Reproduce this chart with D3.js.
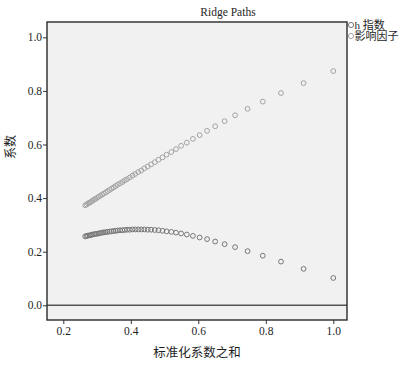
<!DOCTYPE html>
<html>
<head>
<meta charset="utf-8">
<script src="https://cdn.jsdelivr.net/npm/d3@7"></script>
<style>
  body { margin: 0; background: #ffffff; }
  svg { display: block; }
  text { font-family: "Liberation Serif", "Noto Sans CJK SC", serif; fill: #1e1e1e; }
</style>
</head>
<body>
<svg id="chart" width="417" height="365"></svg>
<script>
// x: 标准化系数之和 (one value per ridge parameter step, shared by both series)
const xValues = [1.000,0.912,0.845,0.791,0.746,0.709,0.678,0.650,0.626,0.604,0.584,0.566,0.549,0.534,0.520,0.506,0.494,0.482,0.471,0.460,0.450,0.440,0.431,0.422,0.413,0.405,0.397,0.389,0.382,0.375,0.368,0.361,0.355,0.349,0.343,0.337,0.331,0.326,0.320,0.315,0.310,0.305,0.300,0.295,0.291,0.286,0.282,0.278,0.273,0.269,0.265];
// h 指数 coefficients
const hIndex = [0.102,0.136,0.163,0.185,0.202,0.217,0.228,0.238,0.247,0.253,0.259,0.264,0.268,0.271,0.274,0.276,0.278,0.280,0.281,0.282,0.282,0.283,0.283,0.283,0.283,0.283,0.282,0.282,0.281,0.280,0.280,0.279,0.278,0.277,0.276,0.275,0.274,0.273,0.272,0.271,0.270,0.268,0.267,0.266,0.265,0.264,0.262,0.261,0.260,0.259,0.257];
// 影响因子 coefficients
const impactFactor = [0.874,0.829,0.792,0.760,0.733,0.709,0.687,0.668,0.651,0.635,0.621,0.607,0.595,0.583,0.572,0.562,0.552,0.543,0.534,0.526,0.518,0.511,0.503,0.497,0.490,0.484,0.477,0.471,0.466,0.460,0.455,0.450,0.445,0.440,0.435,0.430,0.426,0.421,0.417,0.413,0.409,0.405,0.401,0.397,0.394,0.390,0.386,0.383,0.380,0.376,0.373];
const seriesNames = ["h 指数", "影响因子"];
const seriesColors = ["#777777", "#a3a3a3"];
const yTicks = [0.0, 0.2, 0.4, 0.6, 0.8, 1.0];
const xTicks = [0.2, 0.4, 0.6, 0.8, 1.0];

const svg = d3.select("#chart");
const L = 47, R = 347, T = 22, B = 320;

const x = d3.scaleLinear().domain([0.1517, 1.0406]).range([L, R]);
const y = d3.scaleLinear().domain([-0.0549, 1.0571]).range([B, T]);

// plot background
svg.append("rect").attr("x", L).attr("y", T).attr("width", R - L).attr("height", B - T)
  .attr("fill", "#f1f1f1");

// zero reference line
svg.append("line").attr("x1", L).attr("x2", R).attr("y1", y(0)).attr("y2", y(0))
  .attr("stroke", "#555").attr("stroke-width", 1.4);

// points
const series = [hIndex, impactFactor];
series.forEach((vals, si) => {
  svg.append("g").selectAll("circle").data(vals).join("circle")
    .attr("cx", (d, i) => x(xValues[i]))
    .attr("cy", d => y(d))
    .attr("r", 2.4)
    .attr("fill", "none")
    .attr("stroke", seriesColors[si])
    .attr("stroke-width", 1);
});

// frame
svg.append("rect").attr("x", L).attr("y", T).attr("width", R - L).attr("height", B - T)
  .attr("fill", "none").attr("stroke", "#2a2a2a").attr("stroke-width", 1.4);

// axes
const yAxis = svg.append("g").attr("transform", `translate(${L},0)`)
  .call(d3.axisLeft(y).tickValues(yTicks).tickFormat(d3.format(".1f")).tickSize(4).tickPadding(1));
const xAxis = svg.append("g").attr("transform", `translate(0,${B})`)
  .call(d3.axisBottom(x).tickValues(xTicks).tickFormat(d3.format(".1f")).tickSize(4).tickPadding(3));
[yAxis, xAxis].forEach(g => {
  g.select(".domain").remove();
  g.selectAll(".tick line").attr("stroke", "#333");
  g.selectAll(".tick text").attr("font-family", "Liberation Serif, serif").attr("font-size", 11.5).attr("fill", "#2a2a2a");
});

// title
svg.append("text").attr("x", 228).attr("y", 16).attr("text-anchor", "middle")
  .attr("font-size", 11.5).text("Ridge Paths");

// axis titles
svg.append("text").attr("x", 197).attr("y", 357).attr("text-anchor", "middle")
  .attr("font-size", 12.5).text("标准化系数之和");
svg.append("text").attr("transform", "translate(15,147) rotate(-90)").attr("text-anchor", "middle")
  .attr("font-size", 12).text("系数");

// legend
const legend = svg.append("g");
seriesNames.forEach((name, i) => {
  const ly = 25 + i * 11;
  legend.append("circle").attr("cx", 351).attr("cy", ly).attr("r", 2.6)
    .attr("fill", "none").attr("stroke", seriesColors[i]).attr("stroke-width", 1);
  legend.append("text").attr("x", 354.5).attr("y", ly + 4).attr("font-size", 11).text(name);
});
</script>
</body>
</html>
